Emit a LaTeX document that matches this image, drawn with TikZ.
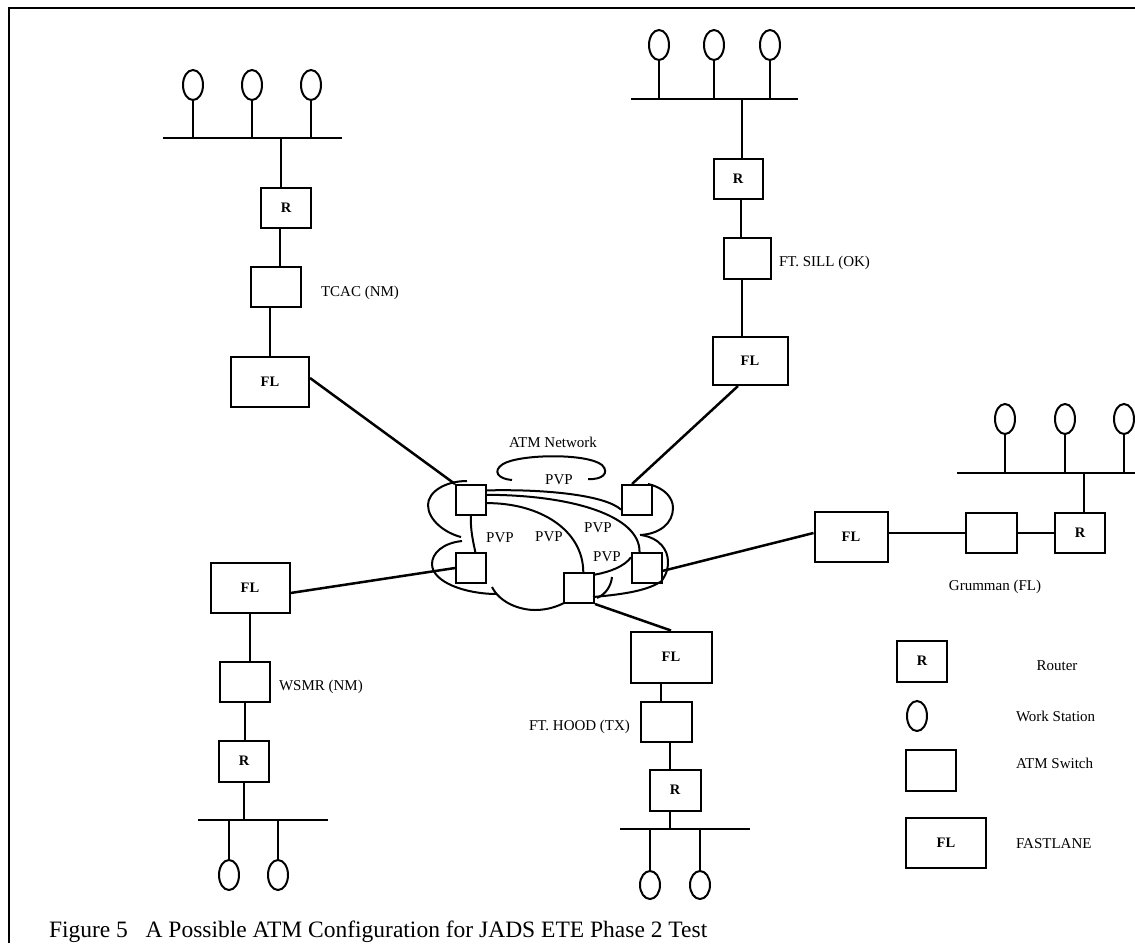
\documentclass[tikz,border=0pt]{standalone}
\usepackage{fontspec}
\setmainfont{Liberation Serif}
\usetikzlibrary{shapes.geometric}
\begin{document}
\begin{tikzpicture}[x=1pt,y=-1pt, line width=2pt,
  boxfont/.style={font=\fontsize{14.5}{16}\selectfont\bfseries},
  rbox/.style={draw, minimum width=50pt, minimum height=40pt, inner sep=0pt, boxfont},
  swbox/.style={draw, minimum width=50pt, minimum height=40pt, inner sep=0pt},
  flbox/.style={draw, minimum width=78pt, minimum height=50pt, inner sep=0pt, boxfont},
  csw/.style={draw, minimum width=30pt, minimum height=30pt, inner sep=0pt},
  ws/.style={draw, ellipse, minimum width=20pt, minimum height=30pt, inner sep=0pt},
  lbl/.style={font=\fontsize{15}{18}\selectfont, inner sep=0pt},
  bus/.style={line width=2.6pt},
  link/.style={line width=2.5pt},
  cloudline/.style={line width=2pt}]
\useasboundingbox (0,0) rectangle (1135,943);

% frame
\coordinate (fbl) at (9,943);
\coordinate (ftl) at (9,8);
\coordinate (ftr) at (1135,8);
\draw[line width=2.4pt] (fbl) -- (ftl) -- (ftr);

% ===== cloud switches =====
\node[csw] (ctl) at (471,500) {};
\node[csw] (ctr) at (637,500) {};
\node[csw] (cbl) at (471,568) {};
\node[csw] (cbm) at (579,588) {};
\node[csw] (cbr) at (647,568) {};

% cloud outline
\draw[cloudline] (512,480) .. controls (498,479) and (492,471) .. (503,464)
   .. controls (520,454) and (587,453) .. (602,465)
   .. controls (610,473) and (602,480) .. (588,479);
\draw[cloudline] (467,481) .. controls (445,481) and (428,492) .. (428,505)
   .. controls (428,520) and (445,533) .. (461,537);
\draw[cloudline] (462,541) .. controls (443,543) and (432,553) .. (432,564)
   .. controls (432,582) and (465,594) .. (497,594);
\draw[cloudline] (492,587) .. controls (500,603) and (520,610) .. (535,610)
   .. controls (548,610) and (558,606) .. (564,603);
\draw[cloudline] (593,597) .. controls (615,595) and (645,592) .. (660,582);
\draw[cloudline] (612,577) .. controls (611,586) and (606,594) .. (597,598);
\draw[cloudline] (648,484) .. controls (665,488) and (673,498) .. (673,508)
   .. controls (673,523) and (660,534) .. (640,535);
\draw[cloudline] (641,535) .. controls (660,538) and (668,550) .. (668,562)
   .. controls (668,572) and (664,578) .. (660,583);

% PVP paths
\draw[cloudline] (ctl.31) .. controls (545,489) and (605,495) .. (ctr.211);
\draw[cloudline] (ctl.18) .. controls (570,495) and (640,515) .. (cbr.115);
\draw[cloudline] (ctl.-11) .. controls (540,503) and (583,530) .. (cbm.75);
\draw[cloudline] (ctl.south) .. controls (470,530) and (474,545) .. (cbl.75);
\draw[cloudline] (cbm.40) .. controls (610,572) and (625,566) .. (cbr.146);

\node[lbl] (net) at (553,442) {ATM Network};
\node[lbl] (p1) at (559,480) {PVP};
\node[lbl] (p2) at (598,528) {PVP};
\node[lbl] (p3) at (549,537) {PVP};
\node[lbl] (p4) at (500,538) {PVP};
\node[lbl] (p5) at (607,557) {PVP};

% ===== TCAC (top left) =====
\node[ws] (wa1) at (193,85) {};
\node[ws] (wa2) at (252,85) {};
\node[ws] (wa3) at (311,85) {};
\coordinate (bal) at (163,138);
\coordinate (bar) at (342,138);
\draw[bus] (bal) -- (bar);
\foreach \w in {wa1,wa2,wa3} \draw (\w.south) -- (\w.south |- bal);
\node[rbox] (ra) at (286,208) {R};
\node[swbox] (sa) at (276,287) {};
\node[flbox] (fa) at (270,382) {FL};
\node[lbl, anchor=west] (ta) at (320,293) {TCAC (NM)};
\draw ([xshift=-5pt]ra.north) -- ([xshift=-5pt]ra.north |- bal);
\draw ([xshift=-6pt]ra.south) -- ([xshift=-6pt]ra.south |- sa.north);
\draw[link] ([xshift=-6pt]sa.south) -- ([xshift=-6pt]sa.south |- fa.north);
\draw[link] ([yshift=4pt]fa.east) -- (ctl.north west);

% ===== FT. SILL (top right) =====
\node[ws] (wb1) at (659,45) {};
\node[ws] (wb2) at (714,45) {};
\node[ws] (wb3) at (770,45) {};
\coordinate (bbl) at (631,99);
\coordinate (bbr) at (798,99);
\draw[bus] (bbl) -- (bbr);
\foreach \w in {wb1,wb2,wb3} \draw (\w.south) -- (\w.south |- bbl);
\node[rbox, minimum width=49pt] (rb) at (738,179) {R};
\node[swbox, minimum width=47pt, minimum height=41pt] (sb) at (747,258) {};
\node[flbox, minimum width=75pt, minimum height=48pt] (fb) at (750,361) {FL};
\node[lbl, anchor=west] (tb) at (778,263) {FT. SILL (OK)};
\draw ([xshift=4pt]rb.north) -- ([xshift=4pt]rb.north |- bbl);
\draw[link] ([xshift=3pt]rb.south) -- ([xshift=3pt]rb.south |- sb.north);
\draw[link] ([xshift=-5pt]sb.south) -- ([xshift=-5pt]sb.south |- fb.north);
\draw[link] ([xshift=-12pt]fb.south) -- ([xshift=-5pt]ctr.north);

% ===== Grumman (right) =====
\node[ws] (wc1) at (1005,419) {};
\node[ws] (wc2) at (1065,419) {};
\node[ws] (wc3) at (1124,419) {};
\coordinate (bcl) at (957,473);
\coordinate (bcr) at (1135,473);
\draw[bus] (bcl) -- (bcr);
\foreach \w in {wc1,wc2,wc3} \draw (\w.south) -- (\w.south |- bcl);
\node[rbox] (rc) at (1080,533) {R};
\node[swbox, minimum width=51pt] (sc) at (991,533) {};
\node[flbox, minimum width=73pt] (fc) at (851,537) {FL};
\node[lbl] (tc) at (995,587) {Grumman (FL)};
\draw[link] ([xshift=4pt]rc.north) -- ([xshift=4pt]rc.north |- bcl);
\draw (sc.east) -- (rc.west);
\draw (sc.west) -- (sc.west -| fc.east);
\draw[link] ([yshift=4pt]fc.west) -- (cbr.-10);

% ===== WSMR (bottom left) =====
\node[flbox, minimum width=79pt] (fd) at (250,588) {FL};
\node[swbox] (sd) at (245,682) {};
\node[rbox, minimum height=41pt] (rd) at (244,761) {R};
\coordinate (bdl) at (198,820);
\coordinate (bdr) at (328,820);
\draw[bus] (bdl) -- (bdr);
\node[ws] (wd1) at (229,875) {};
\node[ws] (wd2) at (278,875) {};
\foreach \w in {wd1,wd2} \draw (\w.north) -- (\w.north |- bdl);
\node[lbl, anchor=west] (td) at (278,687) {WSMR (NM)};
\draw (fd.south) -- (fd.south |- sd.north);
\draw[link] (sd.south) -- (sd.south |- rd.north);
\draw (rd.south) -- (rd.south |- bdl);
\draw[link] ([yshift=-5pt]fd.east) -- (cbl.west);

% ===== FT. HOOD (bottom middle) =====
\node[flbox, minimum width=81pt, minimum height=51pt] (fe) at (671,657) {FL};
\node[swbox, minimum width=51pt] (se) at (666,722) {};
\node[rbox, minimum width=51pt, minimum height=41pt] (re) at (675,790) {R};
\coordinate (bel) at (620,829);
\coordinate (ber) at (750,829);
\draw[bus] (bel) -- (ber);
\node[ws, minimum height=28pt] (we1) at (650,885) {};
\node[ws, minimum height=28pt] (we2) at (700,885) {};
\foreach \w in {we1,we2} \draw (\w.north) -- (\w.north |- bel);
\node[lbl, anchor=east] (te) at (631,727) {FT. HOOD (TX)};
\draw ([xshift=-10pt]fe.south) -- ([xshift=-10pt]fe.south |- se.north);
\draw[link] ([xshift=4pt]se.south) -- ([xshift=4pt]se.south |- re.north);
\draw[link] ([xshift=-5pt]re.south) -- ([xshift=-5pt]re.south |- bel);
\draw[link] (cbm.south east) -- (fe.north);

% ===== legend =====
\node[rbox, minimum height=41pt] (lr) at (922,661) {R};
\node[ws] (lw) at (917,716) {};
\node[swbox, minimum height=41pt] (ls) at (931,770) {};
\node[flbox, minimum width=80pt] (lf) at (946,843) {FL};
\node[lbl] (lrt) at (1057,666) {Router};
\node[lbl, anchor=west] (lwt) at (1015,716) {Work Station};
\node[lbl, anchor=west] (lst) at (1015,763) {ATM Switch};
\node[lbl, anchor=west] (lft) at (1015,844) {FASTLANE};

% caption
\node[anchor=base west, inner sep=0pt, font=\fontsize{23.5}{28}\selectfont] (cap) at (48,937)
  {Figure 5\ \ \ A Possible ATM Configuration for JADS ETE Phase 2 Test};
\end{tikzpicture}
\end{document}
